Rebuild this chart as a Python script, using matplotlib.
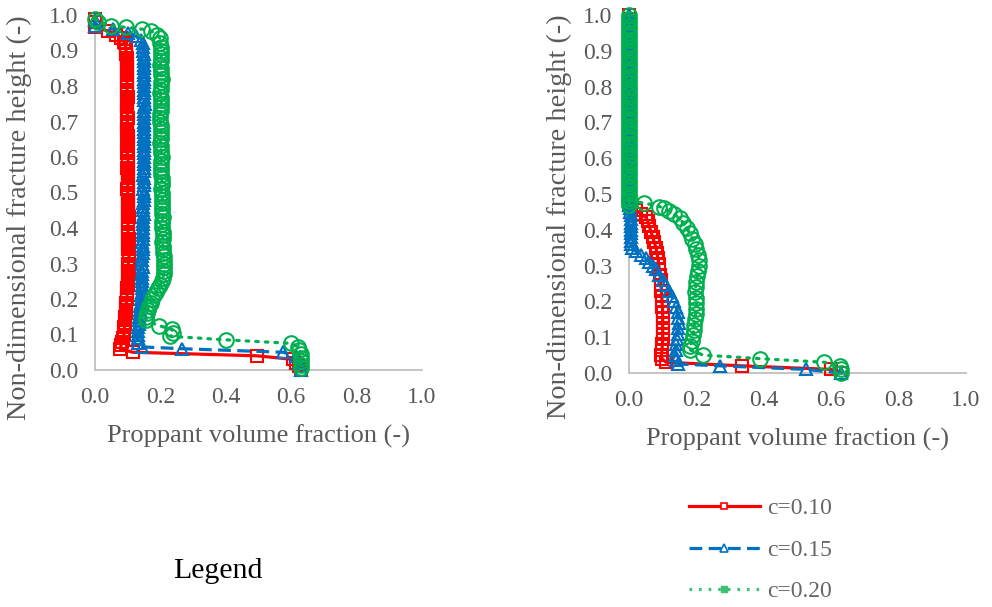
import matplotlib
matplotlib.use('Agg')
import matplotlib.pyplot as plt
from matplotlib.lines import Line2D

# ---- left panel ----
left_red_x = [0.0, 0.0, 0.0, 0.04, 0.065, 0.08, 0.088,
              0.092, 0.094, 0.095, 0.096, 0.097, 0.098, 0.098, 0.097, 0.098, 0.099,
              0.099, 0.098, 0.097, 0.098, 0.099, 0.100, 0.099, 0.098, 0.097, 0.098,
              0.099, 0.100, 0.099, 0.098, 0.098, 0.099, 0.100, 0.101, 0.100, 0.099,
              0.098, 0.099, 0.100, 0.101, 0.100, 0.099, 0.100, 0.101, 0.102, 0.101,
              0.100, 0.099, 0.100, 0.101, 0.102, 0.101, 0.100, 0.101, 0.102, 0.103,
              0.102, 0.101, 0.100, 0.101, 0.102, 0.103, 0.102, 0.101, 0.102, 0.103,
              0.104, 0.103, 0.102, 0.101, 0.102, 0.103, 0.102, 0.101, 0.100, 0.099,
              0.098, 0.098, 0.097, 0.096, 0.096, 0.095, 0.094, 0.093, 0.092, 0.091,
              0.090, 0.089, 0.088, 0.087,
              0.084, 0.080, 0.077, 0.115, 0.495, 0.605, 0.615, 0.625, 0.63]
left_red_y = [0.99, 0.98, 0.965, 0.955, 0.945, 0.935, 0.925,
              0.92, 0.91, 0.90, 0.89, 0.88, 0.87, 0.86, 0.85, 0.84, 0.83,
              0.82, 0.81, 0.80, 0.79, 0.78, 0.77, 0.76, 0.75, 0.74, 0.73,
              0.72, 0.71, 0.70, 0.69, 0.68, 0.67, 0.66, 0.65, 0.64, 0.63,
              0.62, 0.61, 0.60, 0.59, 0.58, 0.57, 0.56, 0.55, 0.54, 0.53,
              0.52, 0.51, 0.50, 0.49, 0.48, 0.47, 0.46, 0.45, 0.44, 0.43,
              0.42, 0.41, 0.40, 0.39, 0.38, 0.37, 0.36, 0.35, 0.34, 0.33,
              0.32, 0.31, 0.30, 0.29, 0.28, 0.27, 0.26, 0.25, 0.24, 0.23,
              0.22, 0.21, 0.20, 0.19, 0.18, 0.17, 0.16, 0.15, 0.14, 0.13,
              0.12, 0.11, 0.10, 0.09,
              0.08, 0.07, 0.06, 0.05, 0.04, 0.03, 0.02, 0.01, 0.0]

left_blue_x = [0.0, 0.0, 0.055, 0.10, 0.125, 0.14,
               0.146, 0.147, 0.148, 0.149, 0.150, 0.150, 0.149, 0.150, 0.151, 0.150,
               0.149, 0.150, 0.151, 0.150, 0.149, 0.150, 0.151, 0.152, 0.151, 0.150,
               0.149, 0.150, 0.151, 0.150, 0.149, 0.150, 0.151, 0.150, 0.149, 0.150,
               0.151, 0.150, 0.149, 0.150, 0.151, 0.150, 0.149, 0.148, 0.149, 0.150,
               0.149, 0.148, 0.149, 0.150, 0.149, 0.148, 0.147, 0.148, 0.149, 0.148,
               0.147, 0.146, 0.147, 0.148, 0.147, 0.146, 0.145, 0.146, 0.147, 0.146,
               0.145, 0.144, 0.145, 0.146, 0.145, 0.144, 0.143, 0.144, 0.145, 0.144,
               0.143, 0.142, 0.141, 0.140, 0.139, 0.138, 0.137, 0.136, 0.135, 0.134,
               0.133, 0.132, 0.131, 0.130,
               0.13, 0.145, 0.265, 0.575, 0.615, 0.625, 0.63, 0.63]
left_blue_y = [0.985, 0.97, 0.96, 0.95, 0.94, 0.93,
               0.92, 0.91, 0.90, 0.89, 0.88, 0.87, 0.86, 0.85, 0.84, 0.83,
               0.82, 0.81, 0.80, 0.79, 0.78, 0.77, 0.76, 0.75, 0.74, 0.73,
               0.72, 0.71, 0.70, 0.69, 0.68, 0.67, 0.66, 0.65, 0.64, 0.63,
               0.62, 0.61, 0.60, 0.59, 0.58, 0.57, 0.56, 0.55, 0.54, 0.53,
               0.52, 0.51, 0.50, 0.49, 0.48, 0.47, 0.46, 0.45, 0.44, 0.43,
               0.42, 0.41, 0.40, 0.39, 0.38, 0.37, 0.36, 0.35, 0.34, 0.33,
               0.32, 0.31, 0.30, 0.29, 0.28, 0.27, 0.26, 0.25, 0.24, 0.23,
               0.22, 0.21, 0.20, 0.19, 0.18, 0.17, 0.16, 0.15, 0.14, 0.13,
               0.12, 0.11, 0.10, 0.09,
               0.075, 0.065, 0.06, 0.05, 0.04, 0.02, 0.01, 0.0]

left_green_x = [0.0, 0.01, 0.05, 0.095, 0.145, 0.172, 0.19, 0.198,
                0.200, 0.201, 0.202, 0.203, 0.202, 0.201, 0.200, 0.201, 0.202, 0.203,
                0.204, 0.203, 0.202, 0.201, 0.200, 0.201, 0.202, 0.203, 0.202, 0.201,
                0.200, 0.199, 0.200, 0.201, 0.202, 0.203, 0.202, 0.201, 0.200, 0.201,
                0.202, 0.203, 0.204, 0.203, 0.202, 0.201, 0.202, 0.203, 0.204, 0.205,
                0.204, 0.203, 0.204, 0.205, 0.206, 0.205, 0.204, 0.205, 0.206, 0.207,
                0.206, 0.205, 0.206, 0.207, 0.208, 0.207, 0.206, 0.207, 0.208, 0.209,
                0.210, 0.211, 0.212, 0.211,
                0.211, 0.210, 0.208, 0.204, 0.200, 0.194, 0.188, 0.181, 0.175, 0.170,
                0.165, 0.161, 0.158, 0.156, 0.155,
                0.195, 0.235, 0.24, 0.23, 0.40, 0.60, 0.62, 0.625, 0.63, 0.63,
                0.63, 0.63, 0.63]
left_green_y = [0.99, 0.98, 0.97, 0.965, 0.96, 0.955, 0.945, 0.935,
                0.92, 0.91, 0.90, 0.89, 0.88, 0.87, 0.86, 0.85, 0.84, 0.83,
                0.82, 0.81, 0.80, 0.79, 0.78, 0.77, 0.76, 0.75, 0.74, 0.73,
                0.72, 0.71, 0.70, 0.69, 0.68, 0.67, 0.66, 0.65, 0.64, 0.63,
                0.62, 0.61, 0.60, 0.59, 0.58, 0.57, 0.56, 0.55, 0.54, 0.53,
                0.52, 0.51, 0.50, 0.49, 0.48, 0.47, 0.46, 0.45, 0.44, 0.43,
                0.42, 0.41, 0.40, 0.39, 0.38, 0.37, 0.36, 0.35, 0.34, 0.33,
                0.32, 0.31, 0.30, 0.29,
                0.28, 0.27, 0.26, 0.25, 0.24, 0.23, 0.22, 0.21, 0.20, 0.19,
                0.18, 0.17, 0.16, 0.15, 0.14,
                0.125, 0.115, 0.105, 0.095, 0.085, 0.075, 0.065, 0.055, 0.045, 0.035,
                0.025, 0.015, 0.005]

# ---- right panel ----
right_top_y = [1.0, 0.99, 0.98, 0.97, 0.96, 0.95, 0.94, 0.93, 0.92, 0.91,
               0.90, 0.89, 0.88, 0.87, 0.86, 0.85, 0.84, 0.83, 0.82, 0.81,
               0.80, 0.79, 0.78, 0.77, 0.76, 0.75, 0.74, 0.73, 0.72, 0.71,
               0.70, 0.69, 0.68, 0.67, 0.66, 0.65, 0.64, 0.63, 0.62, 0.61,
               0.60, 0.59, 0.58, 0.57, 0.56, 0.55, 0.54, 0.53, 0.52, 0.51,
               0.50, 0.49, 0.48, 0.47]

right_red_x = [0.0] * 54 + [
    0.005, 0.02, 0.035, 0.05, 0.055, 0.06, 0.065, 0.07, 0.075, 0.08, 0.083, 0.086,
    0.088, 0.09, 0.092, 0.094, 0.095, 0.096, 0.097, 0.098, 0.099, 0.10, 0.10,
    0.10, 0.10, 0.10, 0.10, 0.099, 0.098, 0.096, 0.098, 0.11, 0.335, 0.60, 0.63]
right_red_y = right_top_y + [
    0.46, 0.455, 0.445, 0.435, 0.425, 0.41, 0.395, 0.38, 0.365, 0.35, 0.335, 0.32,
    0.305, 0.29, 0.275, 0.26, 0.245, 0.23, 0.215, 0.20, 0.185, 0.17, 0.155,
    0.14, 0.125, 0.11, 0.095, 0.08, 0.065, 0.05, 0.04, 0.03, 0.02, 0.01, 0.0]

right_blue_x = [0.0] * 54 + [
    0.003, 0.004, 0.005, 0.005, 0.005, 0.005, 0.005, 0.005, 0.005, 0.006, 0.006,
    0.01, 0.02, 0.035, 0.05, 0.06, 0.07, 0.08, 0.09, 0.10, 0.11, 0.12, 0.128,
    0.134, 0.14, 0.144, 0.146, 0.147, 0.146, 0.144, 0.142, 0.14, 0.138, 0.136,
    0.14, 0.145, 0.27, 0.525, 0.63]
right_blue_y = right_top_y + [
    0.46, 0.45, 0.44, 0.43, 0.42, 0.41, 0.40, 0.39, 0.38, 0.37, 0.36,
    0.35, 0.34, 0.33, 0.32, 0.31, 0.30, 0.29, 0.275, 0.26, 0.245, 0.23, 0.215,
    0.20, 0.185, 0.17, 0.155, 0.14, 0.125, 0.11, 0.095, 0.08, 0.065, 0.05,
    0.035, 0.025, 0.02, 0.01, 0.0]

right_green_x = [0.0] * 54 + [
    0.0, 0.0, 0.045, 0.09, 0.105, 0.12, 0.135, 0.15, 0.16, 0.172, 0.18, 0.188, 0.195,
    0.20, 0.205, 0.208, 0.207, 0.205, 0.202, 0.20, 0.198, 0.197, 0.198, 0.20,
    0.20, 0.198, 0.196, 0.194, 0.192, 0.19, 0.186, 0.182, 0.18,
    0.22, 0.39, 0.58, 0.625, 0.63, 0.63]
right_green_y = right_top_y + [
    0.49, 0.48, 0.475, 0.465, 0.46, 0.452, 0.443, 0.432, 0.42, 0.405, 0.39, 0.375, 0.36,
    0.345, 0.33, 0.315, 0.30, 0.285, 0.27, 0.255, 0.24, 0.225, 0.21, 0.195,
    0.18, 0.165, 0.15, 0.135, 0.12, 0.105, 0.09, 0.075, 0.065,
    0.05, 0.04, 0.03, 0.02, 0.01, 0.0]

labels = ['c=0.10', 'c=0.15', 'c=0.20']
ticks = [0.0, 0.1, 0.2, 0.3, 0.4, 0.5, 0.6, 0.7, 0.8, 0.9, 1.0]
xticks = [0.0, 0.2, 0.4, 0.6, 0.8, 1.0]

RED = '#FF0000'
BLUE = '#0070C0'
GREEN = '#00B050'
GREY = '#595959'
SERIF = ['Liberation Serif', 'DejaVu Serif']

plt.rcParams['font.family'] = SERIF

fig = plt.figure(figsize=(9.92, 6.07), dpi=100)
ax1 = fig.add_axes([95 / 992, 1 - 370 / 607, 327 / 992, 355 / 607])
ax2 = fig.add_axes([629 / 992, 1 - 373 / 607, 337 / 992, 358 / 607])


def draw(ax, rx, ry, bx, by, gx, gy, label_xy):
    ax.plot(rx, ry, color=RED, lw=2.3, ls='-', marker='s', ms=8.5,
            mfc='none', mec=RED, mew=1.5, clip_on=False)
    ax.plot(bx, by, color=BLUE, lw=2.3, ls=(0, (4, 2)), marker='^', ms=9,
            mfc='none', mec=BLUE, mew=1.5, clip_on=False)
    ax.plot(gx, gy, color=GREEN, lw=2.3, ls=(0, (0.8, 2.2)), dash_capstyle='round',
            marker='o', ms=10.5, mfc='none', mec=GREEN, mew=1.5, clip_on=False)
    ax.set_xlim(0, 1)
    ax.set_ylim(0, 1)
    ax.set_xticks(xticks)
    ax.set_yticks(ticks)
    ax.set_xticklabels([f'{t:.1f}' for t in xticks])
    ax.set_yticklabels([f'{t:.1f}' for t in ticks])
    ax.tick_params(length=0, labelsize=17, labelcolor=GREY, pad=12)
    for s in ['top', 'right']:
        ax.spines[s].set_visible(False)
    for s in ['left', 'bottom']:
        ax.spines[s].set_color('#BFBFBF')
        ax.spines[s].set_linewidth(1.3)
        ax.spines[s].set_zorder(0.5)
    ax.set_xlabel('Proppant volume fraction (-)', fontsize=19, color=GREY, labelpad=12)
    ax.set_ylabel('Non-dimensional fracture height (-)', fontsize=20.3, color=GREY)
    ax.yaxis.set_label_coords(*label_xy)
    ax.patch.set_alpha(0)


draw(ax1, left_red_x, left_red_y, left_blue_x, left_blue_y,
     left_green_x, left_green_y, (-0.193, 0.43))
draw(ax2, right_red_x, right_red_y, right_blue_x, right_blue_y,
     right_green_x, right_green_y, (-0.169, 0.436))

handles = [
    Line2D([], [], color=RED, lw=2.3, marker='s', ms=5, mfc='white', mec=RED, mew=1.2),
    Line2D([], [], color=BLUE, lw=2.3, ls=(0, (4, 2)), marker='^', ms=5.5, mfc='white',
           mec=BLUE, mew=1.2),
    Line2D([], [], color='#3CC073', lw=2.3, ls=(0, (0.8, 2.2)), marker='s', ms=5,
           mfc='#3CC073', mec='#3CC073'),
]
leg = fig.legend(handles, labels, loc='center left', bbox_to_anchor=(689 / 992, 1 - 550 / 607),
                 frameon=False, fontsize=17, handlelength=3.0, handletextpad=0.3,
                 labelspacing=0.85, borderpad=0, borderaxespad=0)
for t in leg.get_texts():
    t.set_color('#666666')

fig.text(218 / 992, 1 - 571 / 607, 'Legend', fontsize=21.5, color='black',
         ha='center', va='center')

fig.savefig('out.png', dpi=100)
